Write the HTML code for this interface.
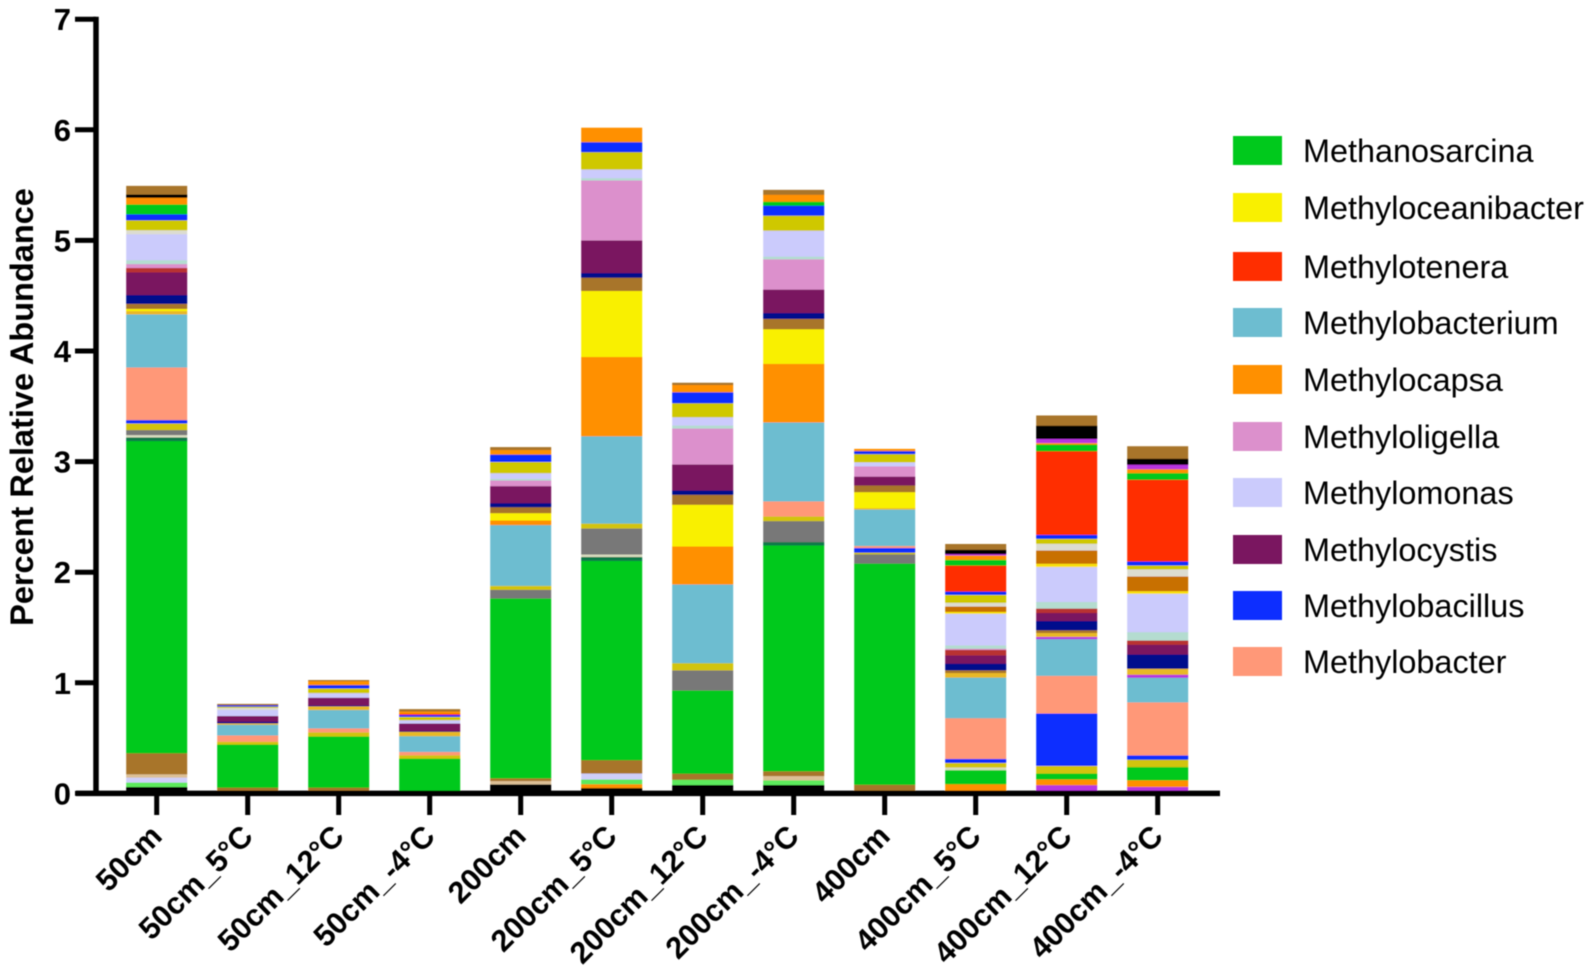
<!DOCTYPE html>
<html lang="en">
<head>
<meta charset="utf-8">
<title>Percent Relative Abundance</title>
<style>
html,body{margin:0;padding:0;background:#fff;width:1595px;height:978px;overflow:hidden}
svg{display:block;font-family:"Liberation Sans",Arial,sans-serif}
</style>
</head>
<body>
<svg id="chart" xmlns="http://www.w3.org/2000/svg" width="1595" height="978" viewBox="0 0 1595 978">
  <defs>
    <filter id="soft" x="-2%" y="-2%" width="104%" height="104%"><feGaussianBlur stdDeviation="0.6"/></filter>
  </defs>
  <rect x="0" y="0" width="1595" height="978" fill="#fff"/>
  <g id="plot" filter="url(#soft)">
    <g id="bars"></g>
    <g id="axes"></g>
    <text transform="translate(33 407) rotate(-90)" text-anchor="middle" font-size="32.5" font-weight="700" fill="#000">Percent Relative Abundance</text>
    <g font-size="32.4" fill="#000">
      <rect x="1233" y="136" width="49" height="29" fill="#00c91d"/>
      <text x="1303" y="162">Methanosarcina</text>
      <rect x="1233" y="193" width="49" height="29" fill="#f9f000"/>
      <text x="1303" y="219">Methyloceanibacter</text>
      <rect x="1233" y="252" width="49" height="29" fill="#ff2d00"/>
      <text x="1303" y="278">Methylotenera</text>
      <rect x="1233" y="308" width="49" height="29" fill="#6dbdd0"/>
      <text x="1303" y="334">Methylobacterium</text>
      <rect x="1233" y="365" width="49" height="29" fill="#ff9000"/>
      <text x="1303" y="391">Methylocapsa</text>
      <rect x="1233" y="422" width="49" height="29" fill="#dc90cc"/>
      <text x="1303" y="448">Methyloligella</text>
      <rect x="1233" y="478" width="49" height="29" fill="#cbcbfc"/>
      <text x="1303" y="504">Methylomonas</text>
      <rect x="1233" y="535" width="49" height="29" fill="#7a1460"/>
      <text x="1303" y="561">Methylocystis</text>
      <rect x="1233" y="591" width="49" height="29" fill="#0a2fff"/>
      <text x="1303" y="617">Methylobacillus</text>
      <rect x="1233" y="647" width="49" height="29" fill="#ff9878"/>
      <text x="1303" y="673">Methylobacter</text>
    </g>
  </g>
</svg>
<script>
const categories = ["50cm","50cm_5°C","50cm_12°C","50cm_-4°C","200cm","200cm_5°C","200cm_12°C","200cm_-4°C","400cm","400cm_5°C","400cm_12°C","400cm_-4°C"];
const yTickLabels = [0,1,2,3,4,5,6,7];

// Stacked series, bottom to top, one value per category
const blackLow = [.06,0,0,0,.084,.05,.078,.078,0,0,0,0];
const magentaLow = [0,0,0,0,0,0,0,0,0,0,.076,.06];
const orangeLow = [0,0,0,0,0,.035,0,0,0,.085,.052,.06];
const limeLow = [.04,0,0,0,0,.043,.048,.042,0,0,0,0];
const lavenderLow = [.045,0,0,0,0,.054,0,0,0,0,0,0];
const tanLow = [.03,0,0,0,.03,0,0,.039,0,0,0,0];
const brownLow = [.19,.054,.054,.012,.024,.12,.054,.042,.08,0,0,0];
const methanosarcina = [2.823,.39,.464,.305,1.627,1.802,.753,2.043,2.0,.127,.054,.12];
const darkGreen = [.033,0,0,0,0,.036,0,.03,0,0,0,0];
const paleLow = [.021,0,0,0,0,.022,0,0,0,.024,0,0];
const greyMid = [.045,0,0,0,.078,.235,.181,.19,.084,0,0,0];
const oliveLow = [.06,.025,.036,.03,.036,.045,.066,.042,.015,.042,.069,.067];
const methylobacillus = [.03,0,0,0,0,0,0,0,.042,.036,.474,.039];
const methylobacter = [.476,.057,.036,.03,0,0,0,.136,.018,.368,.34,.479];
const methylobacterium = [.48,.097,.166,.142,.549,.789,.711,.714,.33,.367,.332,.223];
const orchidMid = [0,0,0,0,0,0,0,0,0,0,.02,.027];
const goldMid = [.03,.012,.033,.04,0,0,0,0,.012,.042,.036,.054];
const methylocapsa = [0,0,0,0,.042,.717,.344,.53,0,0,0,0];
const methyloceanibacter = [.02,0,0,0,.066,.597,.377,.313,.145,0,0,0];
const brownMid = [.045,0,0,0,.054,.12,.09,.093,.06,.024,.024,0];
const navyMid = [.08,.015,.008,.005,.036,.042,.039,.054,0,.06,.084,.129];
const methylocystis = [.205,.052,.07,.07,.154,.295,.235,.211,.08,.075,.072,.088];
const brickMid = [.04,0,0,0,0,0,0,0,0,.05,.04,.039];
const methyloligella = [.035,0,0,0,.051,.542,.325,.274,.093,.01,0,0];
const paleBlue = [.035,0,0,0,.015,.021,.027,.024,0,.03,.06,.075];
const methylomonas = [.235,.055,.042,.03,.051,.078,.075,.235,.036,.286,.316,.347];
const yellowHigh = [0,0,0,0,0,0,0,0,0,.018,.03,.024];
const darkOrange = [0,0,0,0,0,0,0,0,0,.048,.12,.133];
const lightGrey = [.036,.02,0,0,0,0,0,0,0,.033,.06,.063];
const oliveHigh = [.09,.01,.042,.03,.102,.157,.127,.136,.075,.072,.045,.036];
const blueHigh = [.054,.012,.03,.018,.066,.09,.099,.09,.027,.03,.036,.036];
const methylotenera = [0,0,0,.01,0,0,0,0,0,.235,.756,.739];
const greenHigh = [.09,0,0,0,0,0,0,.036,0,.052,.06,.06];
const orangeHigh = [.06,0,.036,.02,.042,.129,.066,.063,.018,.04,.015,.036];
const magentaHigh = [0,0,0,0,0,0,0,0,0,.012,.036,.04];
const blackHigh = [.03,0,0,0,0,0,0,0,0,.039,.12,.054];
const brownHigh = [.075,.01,.008,.02,.024,0,.018,.042,0,.05,.09,.111];

const layers = [
  ["black-low", blackLow, "#000000"],
  ["magenta-low", magentaLow, "#b835e0"],
  ["orange-low", orangeLow, "#ff9000"],
  ["lime-low", limeLow, "#5cea5c"],
  ["lavender-low", lavenderLow, "#cfcffa"],
  ["tan-low", tanLow, "#dcc096"],
  ["brown-low", brownLow, "#a8752a"],
  ["methanosarcina", methanosarcina, "#00c91d"],
  ["dark-green", darkGreen, "#0a7a4a"],
  ["pale-low", paleLow, "#d8dcc0"],
  ["grey-mid", greyMid, "#787878"],
  ["olive-low", oliveLow, "#d2c40c"],
  ["methylobacillus", methylobacillus, "#0a2fff"],
  ["methylobacter", methylobacter, "#ff9878"],
  ["methylobacterium", methylobacterium, "#6dbdd0"],
  ["orchid-mid", orchidMid, "#b835e0"],
  ["gold-mid", goldMid, "#e8b828"],
  ["methylocapsa", methylocapsa, "#ff9000"],
  ["methyloceanibacter", methyloceanibacter, "#f9f000"],
  ["brown-mid", brownMid, "#a8752a"],
  ["navy-mid", navyMid, "#00108c"],
  ["methylocystis", methylocystis, "#7a1460"],
  ["brick-mid", brickMid, "#b83030"],
  ["methyloligella", methyloligella, "#dc90cc"],
  ["pale-blue", paleBlue, "#b4dcd0"],
  ["methylomonas", methylomonas, "#cbcbfc"],
  ["yellow-high", yellowHigh, "#f9e010"],
  ["dark-orange", darkOrange, "#c87000"],
  ["light-grey", lightGrey, "#dcdcd0"],
  ["olive-high", oliveHigh, "#cfc800"],
  ["blue-high", blueHigh, "#0a2fff"],
  ["methylotenera", methylotenera, "#ff2d00"],
  ["green-high", greenHigh, "#00c91d"],
  ["orange-high", orangeHigh, "#ff9000"],
  ["magenta-high", magentaHigh, "#b835e0"],
  ["black-high", blackHigh, "#000000"],
  ["brown-high", brownHigh, "#a8752a"]
];

const SVGNS = "http://www.w3.org/2000/svg";
function yScale(v){ return 793.4 - v * 110.6; }
function xScale(i){ return 156.7 + i * 91.0; }
const barWidth = 61;
const barsGroup = document.getElementById("bars");
const axesGroup = document.getElementById("axes");

categories.forEach(function(cat, i){
  let cum = 0;
  layers.forEach(function(layer){
    const v = layer[1][i];
    if (v > 0) {
      const r = document.createElementNS(SVGNS, "rect");
      
      
      r.setAttribute("x", xScale(i) - barWidth / 2);
      r.setAttribute("y", yScale(cum + v));
      r.setAttribute("width", barWidth);
      r.setAttribute("height", yScale(cum) - yScale(cum + v) + 0.3);
      r.setAttribute("fill", layer[2]);
      barsGroup.appendChild(r);
      cum += v;
    }
  });
});

function addLine(name, x1, y1, x2, y2, w){
  const l = document.createElementNS(SVGNS, "line");
  
  
  l.setAttribute("x1", x1);
  l.setAttribute("y1", y1);
  l.setAttribute("x2", x2);
  l.setAttribute("y2", y2);
  l.setAttribute("stroke", "#000");
  l.setAttribute("stroke-width", w);
  axesGroup.appendChild(l);
}

addLine("y-axis-line", 96, yScale(7) - 2.5, 96, yScale(0) + 2.5, 5.5);
addLine("x-axis-line", 76, yScale(0), 1220, yScale(0), 5.5);

yTickLabels.forEach(function(t){
  addLine("y-tick", 75, yScale(t), 96, yScale(t), 5);
  const s = document.createElementNS(SVGNS, "text");
  
  
  s.setAttribute("x", 71);
  s.setAttribute("y", yScale(t) + 11);
  s.setAttribute("text-anchor", "end");
  s.setAttribute("font-size", "31");
  s.setAttribute("font-weight", "700");
  s.textContent = t;
  axesGroup.appendChild(s);
});

categories.forEach(function(cat, i){
  addLine("x-tick", xScale(i), yScale(0), xScale(i), 815, 5);
  const s = document.createElementNS(SVGNS, "text");
  
  
  s.setAttribute("transform", "translate(" + (xScale(i) + 7) + " 838) rotate(-45)");
  s.setAttribute("text-anchor", "end");
  s.setAttribute("font-size", "30.5");
  s.setAttribute("font-weight", "700");
  s.textContent = cat;
  axesGroup.appendChild(s);
});
</script>
</body>
</html>
